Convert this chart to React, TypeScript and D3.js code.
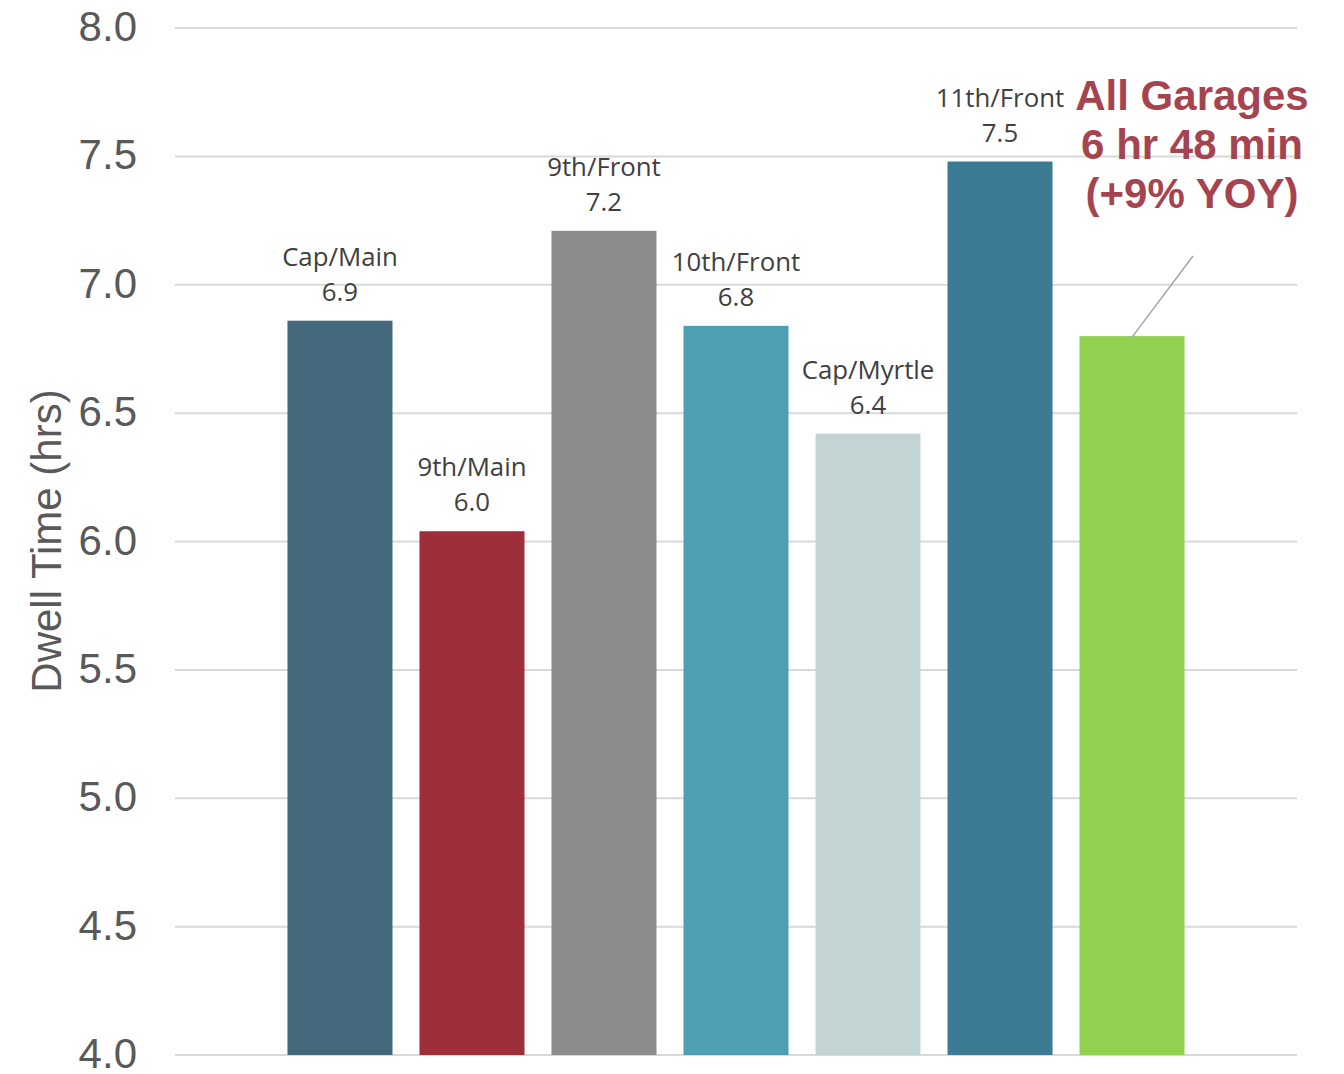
import React from "react";
import * as d3 from "d3";

// Garage dwell times (hours)
const garages = ["Cap/Main", "9th/Main", "9th/Front", "10th/Front", "Cap/Myrtle", "11th/Front", "All Garages"];
const dwellHours = [6.86, 6.04, 7.21, 6.84, 6.42, 7.48, 6.8];
const barColors = ["#44687C", "#9E2E3A", "#8B8C8E", "#4E9FB4", "#C3D4D4", "#3B7B94", "#92D050"];
const yTicks = [4.0, 4.5, 5.0, 5.5, 6.0, 6.5, 7.0, 7.5, 8.0];
const summaryLines = ["All Garages", "6 hr 48 min", "(+9% YOY)"];

const W = 1344;
const H = 1074;
const plotLeft = 175;
const plotRight = 1297;
const plotTop = 28;
const plotBottom = 1055;

export default function App() {
  const x = d3
    .scaleBand<string>()
    .domain(garages)
    .range([plotLeft, plotRight])
    .paddingInner(0.2045)
    .paddingOuter(0.852);
  const y = d3.scaleLinear().domain([4, 8]).range([plotBottom, plotTop]);
  const fmt = d3.format(".1f");
  const sans = "'Liberation Sans', Arial, sans-serif";
  const labelFont = "'Open Sans', 'Noto Sans', sans-serif";

  const summaryIdx = garages.length - 1;
  const summaryCx = x(garages[summaryIdx])! + x.bandwidth() / 2;
  const annX = 1192;

  return (
    <svg
      width={W}
      height={H}
      style={{ position: "absolute", left: 0, top: 0, background: "#fff" }}
    >
      {/* gridlines */}
      {yTicks.map((t) => (
        <line
          key={"g" + t}
          x1={plotLeft}
          x2={plotRight}
          y1={y(t)}
          y2={y(t)}
          stroke="#D9D9D9"
          strokeWidth={2}
        />
      ))}
      {/* tick labels */}
      {yTicks.map((t) => (
        <text
          key={"t" + t}
          x={137}
          y={y(t) + 13}
          textAnchor="end"
          fontFamily={sans}
          fontSize={42}
          fill="#595959"
        >
          {fmt(t)}
        </text>
      ))}
      {/* axis title */}
      <text
        transform={`translate(61,541) rotate(-90)`}
        textAnchor="middle"
        fontFamily={sans}
        fontSize={42}
        fill="#595959"
      >
        Dwell Time (hrs)
      </text>
      {/* bars */}
      {garages.map((g, i) => (
        <rect
          key={g}
          x={x(g)}
          y={y(dwellHours[i])}
          width={x.bandwidth()}
          height={y(4) - y(dwellHours[i])}
          fill={barColors[i]}
        />
      ))}
      {/* bar labels */}
      {garages.slice(0, summaryIdx).map((g, i) => {
        const cx = x(g)! + x.bandwidth() / 2;
        const top = y(dwellHours[i]);
        return (
          <g key={"l" + g} fontFamily={labelFont} fontSize={25.8} fill="#404040" textAnchor="middle">
            <text x={cx} y={top - 55}>{g}</text>
            <text x={cx} y={top - 20}>{fmt(dwellHours[i])}</text>
          </g>
        );
      })}
      {/* summary callout */}
      <line
        x1={annX + 1}
        y1={256}
        x2={summaryCx}
        y2={y(dwellHours[summaryIdx]) + 1}
        stroke="#A6A6A6"
        strokeWidth={1.5}
      />
      {summaryLines.map((s, i) => (
        <text
          key={s}
          x={annX}
          y={110 + i * 49}
          textAnchor="middle"
          fontFamily={sans}
          fontWeight="bold"
          fontSize={42}
          fill="#A5444F"
        >
          {s}
        </text>
      ))}
    </svg>
  );
}
